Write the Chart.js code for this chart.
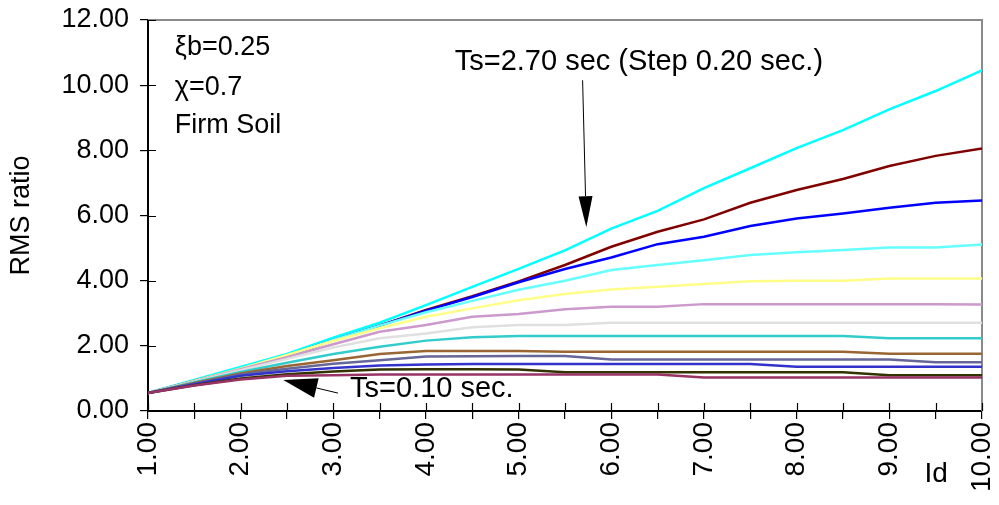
<!DOCTYPE html>
<html>
<head>
<meta charset="utf-8">
<script src="https://cdn.jsdelivr.net/npm/chart.js@4/dist/chart.umd.min.js"></script>
<style>
  html, body { margin: 0; padding: 0; background: #fff; }
  #wrap { width: 999px; height: 505px; }
</style>
</head>
<body>
<div id="wrap"><canvas id="myChart" width="999" height="505"></canvas></div>
<script>
// Id values (x axis)
const idValues = [1.0, 1.5, 2.0, 2.5, 3.0, 3.5, 4.0, 4.5, 5.0, 5.5, 6.0, 6.5, 7.0, 7.5, 8.0, 8.5, 9.0, 9.5, 10.0];

// RMS ratio for each Ts curve, lowest to highest
const ts010 = [0.55, 0.78, 0.97, 1.08, 1.10, 1.12, 1.12, 1.12, 1.12, 1.12, 1.12, 1.12, 1.03, 1.03, 1.03, 1.03, 1.03, 1.03, 1.03];
const ts030 = [0.55, 0.79, 1.00, 1.13, 1.21, 1.27, 1.28, 1.28, 1.27, 1.19, 1.19, 1.19, 1.19, 1.19, 1.19, 1.19, 1.10, 1.10, 1.10];
const ts050 = [0.55, 0.82, 1.08, 1.22, 1.32, 1.40, 1.43, 1.44, 1.44, 1.44, 1.44, 1.44, 1.44, 1.44, 1.36, 1.36, 1.36, 1.36, 1.36];
const ts070 = [0.55, 0.84, 1.12, 1.30, 1.45, 1.56, 1.67, 1.68, 1.69, 1.69, 1.58, 1.58, 1.58, 1.58, 1.58, 1.58, 1.58, 1.50, 1.50];
const ts090 = [0.55, 0.86, 1.15, 1.38, 1.56, 1.75, 1.84, 1.84, 1.84, 1.82, 1.82, 1.82, 1.82, 1.82, 1.82, 1.82, 1.76, 1.76, 1.76];
const ts110 = [0.55, 0.88, 1.20, 1.48, 1.75, 1.97, 2.16, 2.26, 2.30, 2.30, 2.30, 2.30, 2.30, 2.30, 2.30, 2.30, 2.23, 2.23, 2.23];
const ts130 = [0.55, 0.90, 1.25, 1.60, 1.95, 2.23, 2.38, 2.57, 2.64, 2.64, 2.71, 2.71, 2.71, 2.71, 2.71, 2.71, 2.71, 2.71, 2.71];
const ts150 = [0.55, 0.91, 1.28, 1.65, 2.05, 2.43, 2.64, 2.89, 2.98, 3.12, 3.20, 3.20, 3.28, 3.28, 3.28, 3.28, 3.28, 3.28, 3.27];
const ts170 = [0.55, 0.92, 1.30, 1.72, 2.15, 2.54, 2.89, 3.15, 3.40, 3.59, 3.73, 3.81, 3.90, 3.98, 4.00, 4.00, 4.07, 4.07, 4.07];
const ts190 = [0.55, 0.92, 1.30, 1.70, 2.18, 2.62, 3.03, 3.38, 3.72, 4.00, 4.33, 4.48, 4.63, 4.79, 4.87, 4.94, 5.02, 5.02, 5.11];
const ts210 = [0.55, 0.92, 1.28, 1.70, 2.17, 2.62, 3.08, 3.50, 3.95, 4.36, 4.71, 5.12, 5.35, 5.68, 5.91, 6.06, 6.24, 6.39, 6.46];
const ts230 = [0.55, 0.92, 1.28, 1.70, 2.17, 2.62, 3.10, 3.52, 3.98, 4.48, 5.04, 5.50, 5.88, 6.39, 6.78, 7.12, 7.52, 7.83, 8.06];
const ts250 = [0.56, 0.95, 1.35, 1.75, 2.25, 2.71, 3.25, 3.81, 4.36, 4.93, 5.60, 6.14, 6.84, 7.45, 8.07, 8.62, 9.26, 9.82, 10.45];

const seriesNames = ['Ts=0.10', 'Ts=0.30', 'Ts=0.50', 'Ts=0.70', 'Ts=0.90', 'Ts=1.10', 'Ts=1.30',
  'Ts=1.50', 'Ts=1.70', 'Ts=1.90', 'Ts=2.10', 'Ts=2.30', 'Ts=2.50'];
const seriesValues = [ts010, ts030, ts050, ts070, ts090, ts110, ts130, ts150, ts170, ts190, ts210, ts230, ts250];
const seriesColors = ['#993366', '#333300', '#3333cc', '#666699', '#996633', '#33cccc', '#e0e0e0',
  '#cc99cc', '#ffff88', '#66ffff', '#0000ff', '#800000', '#00ffff'];

// y tick labels 0..12, x tick labels 1..10
const yMin = 0, yMax = 12, yStep = 2;
const xMin = 1, xMax = 10, xStep = 0.5;

const FONT = '"Liberation Sans", Arial, sans-serif';

// annotation texts, placed in data units
const notes = [
  { text: 'ξb=0.25', x: 1.29, y: 10.92, size: 27 },
  { text: 'χ=0.7', x: 1.29, y: 9.69, size: 27 },
  { text: 'Firm Soil', x: 1.29, y: 8.53, size: 27 },
  { text: 'Ts=2.70 sec (Step 0.20 sec.)', x: 4.31, y: 10.46, size: 29 },
  { text: 'Ts=0.10 sec.', x: 3.18, y: 0.43, size: 29 }
];
const arrows = [
  { from: [5.69, 10.15], to: [5.73, 5.64], head: 31, width: 14 },
  { from: [3.05, 0.55], to: [2.46, 0.95], head: 34, width: 20 }
];

const datasets = seriesValues.map((vals, i) => ({
  label: seriesNames[i],
  data: vals.map((v, j) => ({ x: idValues[j], y: v })),
  borderColor: seriesColors[i],
  borderWidth: 2.5,
  pointRadius: 0,
  tension: 0,
  fill: false
}));

const frame = {
  id: 'frame',
  beforeDatasetsDraw(chart) {
    const c = chart.ctx, a = chart.chartArea;
    const xs = chart.scales.x, ys = chart.scales.y;
    c.save();
    // top and right border
    c.strokeStyle = '#8a8a8a';
    c.lineWidth = 2;
    c.beginPath();
    c.moveTo(a.left, a.top);
    c.lineTo(a.right, a.top);
    c.lineTo(a.right, a.bottom);
    c.stroke();
    // inner halves of the ticks
    c.strokeStyle = '#000';
    c.lineWidth = 1.2;
    c.beginPath();
    xs.ticks.forEach(t => {
      const px = Math.round(xs.getPixelForValue(t.value)) + 0.5;
      c.moveTo(px, a.bottom);
      c.lineTo(px, a.bottom - 8);
    });
    ys.ticks.forEach(t => {
      const py = Math.round(ys.getPixelForValue(t.value)) + 0.5;
      c.moveTo(a.left, py);
      c.lineTo(a.left + 8, py);
    });
    c.stroke();
    c.restore();
  },
  afterDraw(chart) {
    const c = chart.ctx;
    const xs = chart.scales.x, ys = chart.scales.y;
    c.save();
    c.fillStyle = '#000';
    c.textBaseline = 'alphabetic';
    c.textAlign = 'left';
    notes.forEach(n => {
      c.font = n.size + 'px ' + FONT;
      c.fillText(n.text, xs.getPixelForValue(n.x), ys.getPixelForValue(n.y));
    });
    // axis name under the x axis
    c.font = '28px ' + FONT;
    c.fillText('Id', xs.getPixelForValue(9.38), ys.getPixelForValue(-2.18));

    arrows.forEach(ar => {
      const x1 = xs.getPixelForValue(ar.from[0]), y1 = ys.getPixelForValue(ar.from[1]);
      const x2 = xs.getPixelForValue(ar.to[0]), y2 = ys.getPixelForValue(ar.to[1]);
      const len = Math.hypot(x2 - x1, y2 - y1);
      const ux = (x2 - x1) / len, uy = (y2 - y1) / len;
      const bx = x2 - ux * ar.head, by = y2 - uy * ar.head;
      c.strokeStyle = '#000';
      c.lineWidth = 1;
      c.beginPath();
      c.moveTo(x1, y1);
      c.lineTo(bx, by);
      c.stroke();
      c.beginPath();
      c.moveTo(x2, y2);
      c.lineTo(bx - uy * ar.width / 2, by + ux * ar.width / 2);
      c.lineTo(bx + uy * ar.width / 2, by - ux * ar.width / 2);
      c.closePath();
      c.fill();
    });
    c.restore();
  }
};

new Chart(document.getElementById('myChart'), {
  type: 'line',
  data: { datasets: datasets },
  options: {
    responsive: false,
    animation: false,
    layout: { padding: { left: 0, top: 20, right: 17, bottom: 0 } },
    plugins: { legend: { display: false }, tooltip: { enabled: false } },
    scales: {
      x: {
        type: 'linear',
        min: xMin,
        max: xMax,
        afterFit: s => { s.height = 94; s.paddingLeft = 0; s.paddingRight = 0; },
        border: { color: '#000', width: 2 },
        grid: { drawOnChartArea: false, tickLength: 8, color: '#000', lineWidth: 1.2 },
        ticks: {
          stepSize: xStep,
          autoSkip: false,
          minRotation: 90,
          maxRotation: 90,
          padding: 3,
          color: '#000',
          font: { family: FONT, size: 28 },
          callback: v => Number.isInteger(v) ? v.toFixed(2) : ''
        }
      },
      y: {
        min: yMin,
        max: yMax,
        afterFit: s => { s.width = 148; s.paddingTop = 0; s.paddingBottom = 0; },
        border: { color: '#000', width: 2 },
        grid: { drawOnChartArea: false, tickLength: 8, color: '#000', lineWidth: 1.2 },
        title: {
          display: true,
          text: 'RMS ratio',
          color: '#000',
          font: { family: FONT, size: 27 },
          padding: { top: 5, bottom: 0 }
        },
        ticks: {
          stepSize: yStep,
          padding: 11,
          color: '#000',
          font: { family: FONT, size: 27 },
          callback: v => v.toFixed(2)
        }
      }
    }
  },
  plugins: [frame]
});
</script>
</body>
</html>
